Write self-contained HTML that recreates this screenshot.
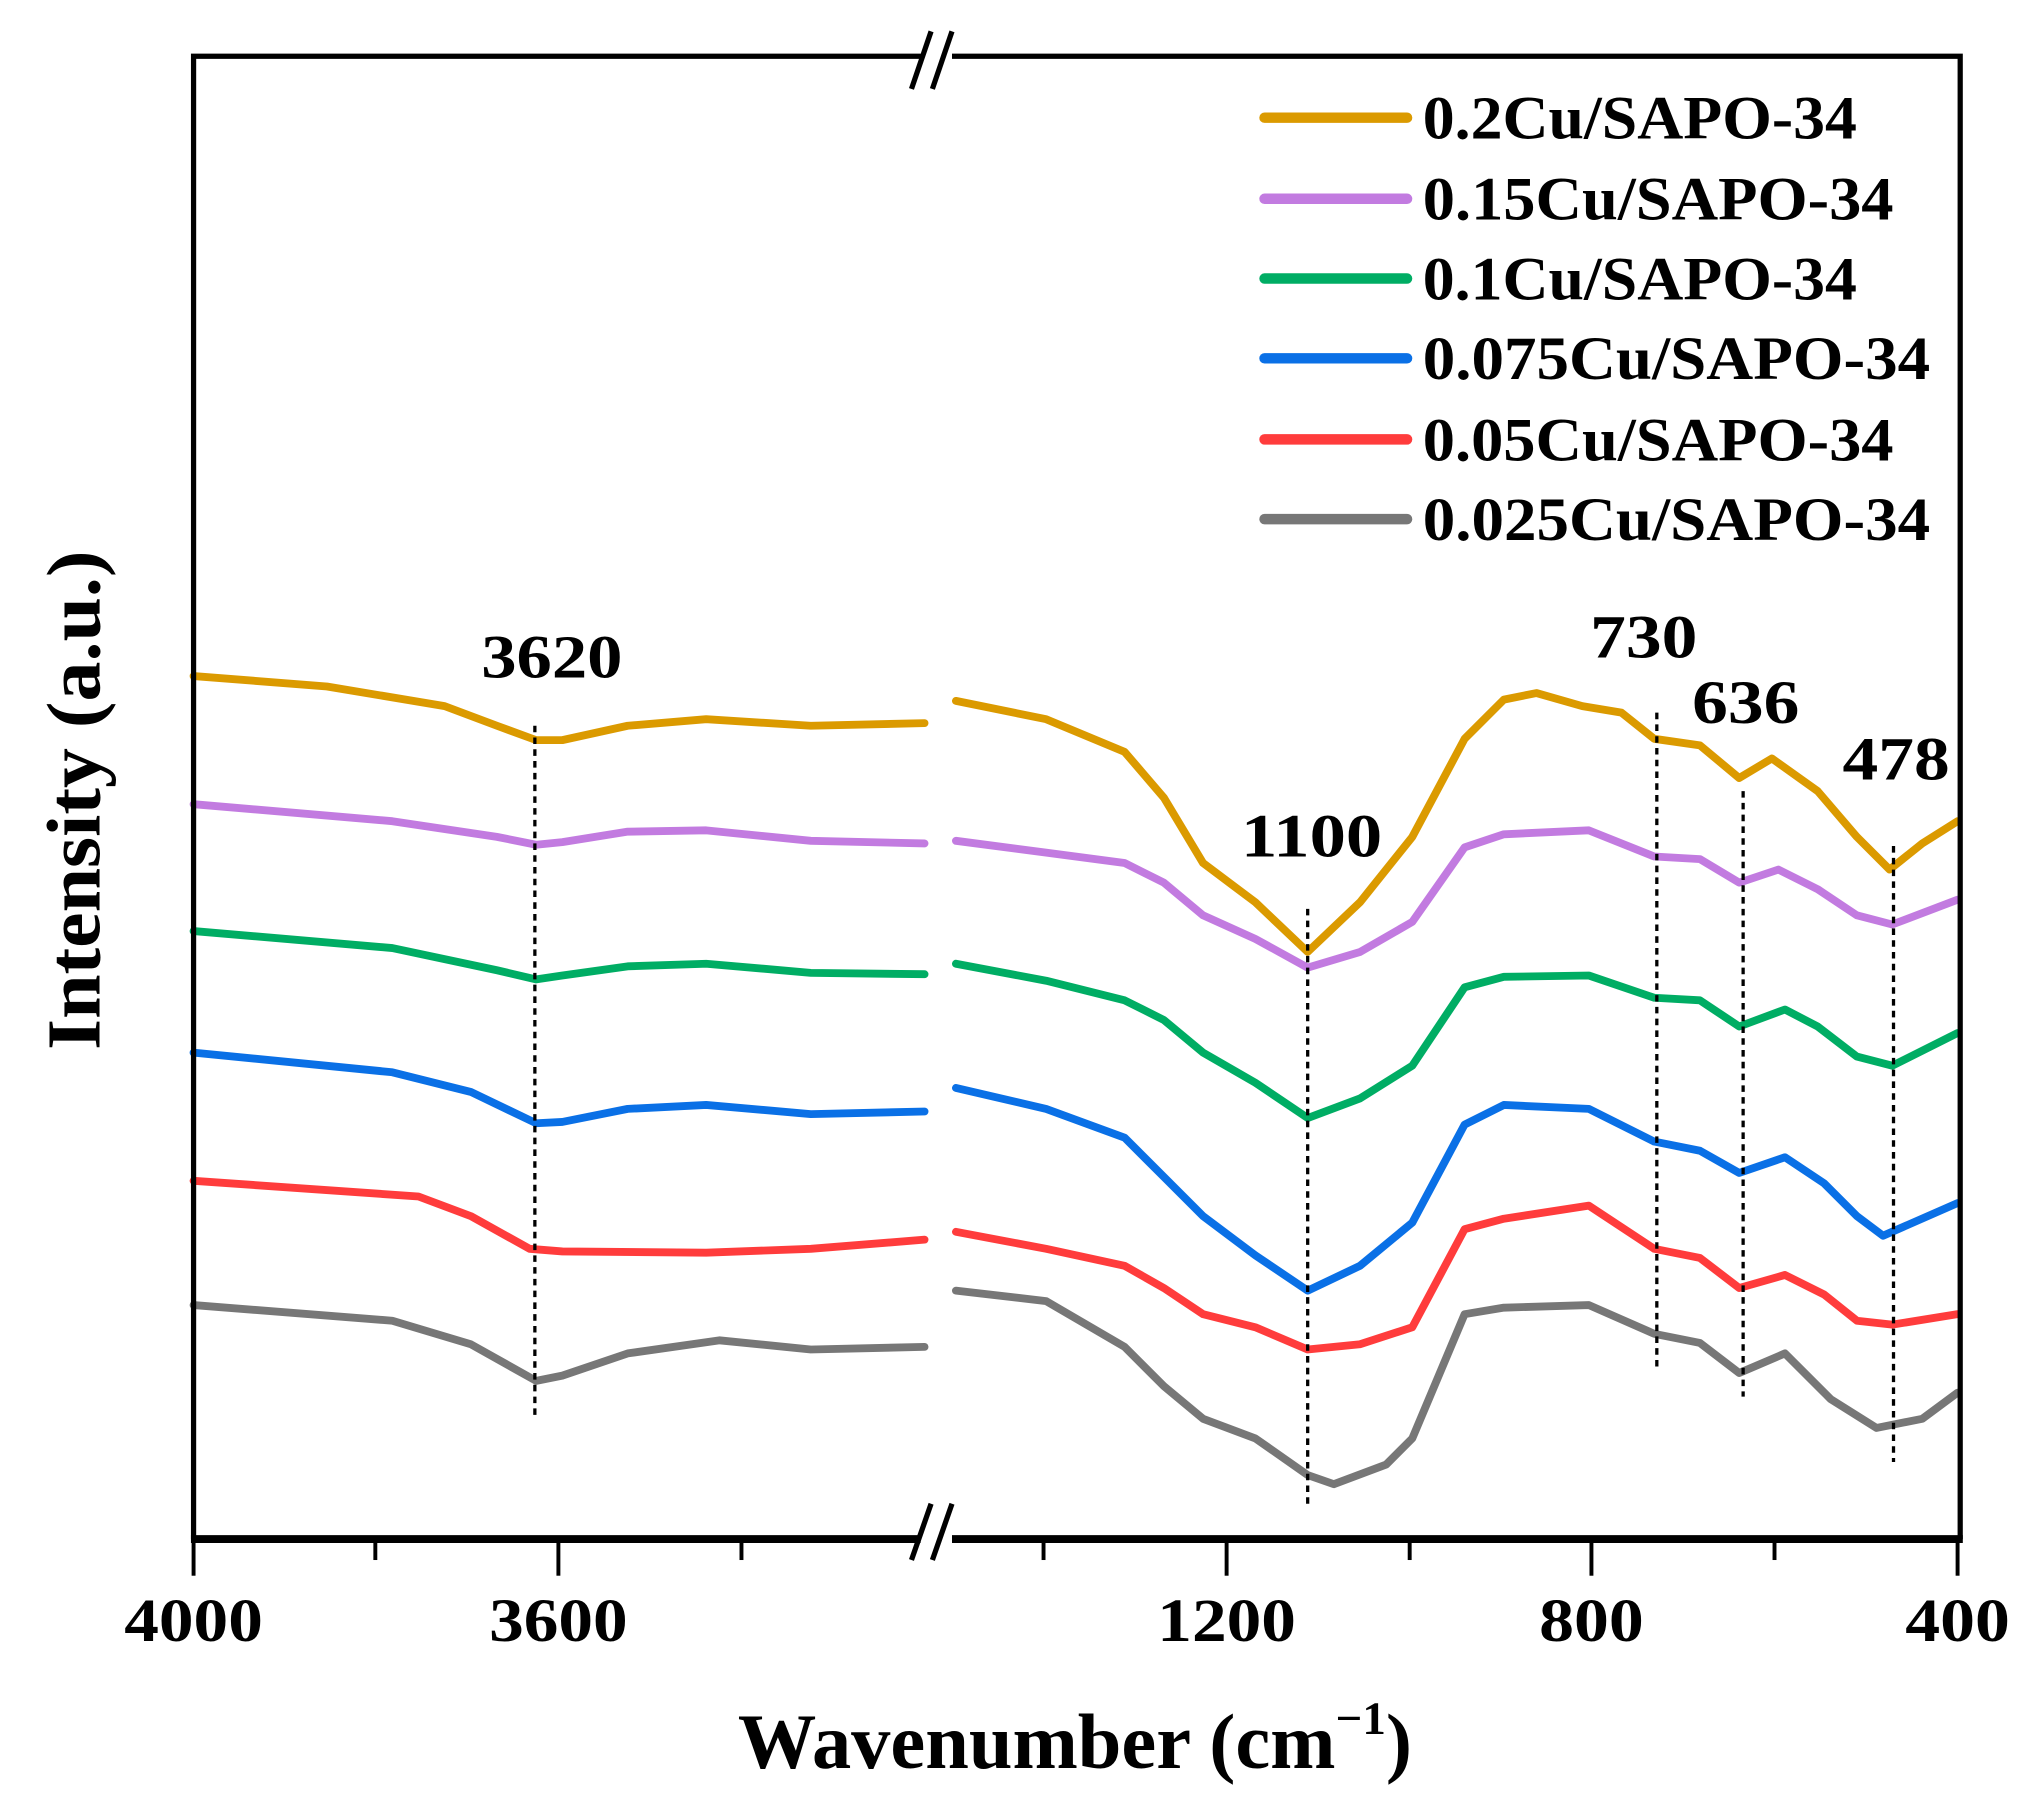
<!DOCTYPE html><html><head><style>html,body{margin:0;padding:0;background:#fff}</style></head><body>
<svg width="2040" height="1792" viewBox="0 0 1560 1370.4" xmlns="http://www.w3.org/2000/svg" font-family="'Liberation Serif',serif" font-weight="bold">
<rect width="1560" height="1370.4" fill="#fff"/>
<g fill="none" stroke-width="6" stroke-linejoin="round" stroke-linecap="round">
<polyline stroke="#db9a00" points="148,517 250,525 340,540 380,555 410,566 430,566 480,555 540,550 620,555 707,553"/>
<polyline stroke="#db9a00" points="731,536 800,550 860,575 890,610 920,660 960,690 1000,728 1040,690 1080,640 1120,565 1150,535 1175,530 1210,540 1240,545 1265,565 1300,570 1330,595 1355,580 1390,605 1420,640 1445,665 1470,645 1497,628"/>
<polyline stroke="#c27be0" points="148,615 300,628 380,640 410,646 430,644 480,636 540,635 620,643 707,645"/>
<polyline stroke="#c27be0" points="731,643 800,652 860,660 890,675 920,700 960,718 1000,740 1040,728 1080,705 1120,648 1150,638 1215,635 1265,655 1300,657 1330,675 1360,665 1390,680 1420,700 1447,707 1497,688"/>
<polyline stroke="#00ad64" points="148,712 300,725 380,742 410,749 430,746 480,739 540,737 620,744 707,745"/>
<polyline stroke="#00ad64" points="731,737 800,750 860,765 890,780 920,805 960,828 1000,855 1040,840 1080,815 1120,755 1150,747 1215,746 1265,763 1300,765 1330,785 1365,772 1390,785 1420,808 1447,815 1497,790"/>
<polyline stroke="#0a70e6" points="148,805 300,820 360,835 410,859 430,858 480,848 540,845 620,852 707,850"/>
<polyline stroke="#0a70e6" points="731,832 800,848 860,870 890,900 920,930 960,960 1000,987 1040,968 1080,935 1120,860 1150,845 1215,848 1265,873 1300,880 1330,897 1365,885 1395,905 1420,930 1440,945 1497,920"/>
<polyline stroke="#ff3c3c" points="148,903 320,915 360,930 405,955 430,957 540,958 620,955 707,948"/>
<polyline stroke="#ff3c3c" points="731,942 800,955 860,968 890,985 920,1005 960,1015 1000,1032 1040,1028 1080,1015 1120,940 1150,932 1215,922 1265,955 1300,962 1330,985 1365,975 1395,990 1420,1010 1447,1013 1497,1005"/>
<polyline stroke="#777" points="148,998 300,1010 360,1028 410,1056 430,1052 480,1035 550,1025 620,1032 707,1030"/>
<polyline stroke="#777" points="731,987 800,995 860,1030 890,1060 920,1085 960,1100 1000,1128 1020,1135 1060,1120 1080,1100 1120,1005 1150,1000 1215,998 1265,1020 1300,1027 1330,1050 1365,1035 1400,1070 1435,1092 1470,1085 1497,1065"/>
</g>
<g stroke="#000" stroke-width="2.5" stroke-dasharray="5,4">
<line x1="409" y1="555" x2="409" y2="1085"/>
<line x1="1000" y1="695" x2="1000" y2="1150"/>
<line x1="1267" y1="545" x2="1267" y2="1045"/>
<line x1="1333" y1="605" x2="1333" y2="1068"/>
<line x1="1448" y1="647" x2="1448" y2="1118"/>
</g>
<g stroke="#000" fill="none">
<polyline stroke-width="4" points="148,1177 148,43 1499,43 1499,1177"/>
<line x1="146" y1="1177" x2="1501" y2="1177" stroke-width="6"/>
<g stroke-width="3">
<line x1="148" y1="1177" x2="148" y2="1205"/><line x1="287" y1="1177" x2="287" y2="1193"/>
<line x1="427" y1="1177" x2="427" y2="1205"/><line x1="567" y1="1177" x2="567" y2="1193"/>
<line x1="798" y1="1177" x2="798" y2="1193"/><line x1="938" y1="1177" x2="938" y2="1205"/>
<line x1="1078" y1="1177" x2="1078" y2="1193"/><line x1="1217" y1="1177" x2="1217" y2="1205"/>
<line x1="1357" y1="1177" x2="1357" y2="1193"/><line x1="1497" y1="1177" x2="1497" y2="1205"/>
</g>
</g>
<rect x="704" y="35" width="24" height="14" fill="#fff"/>
<rect x="704" y="1168" width="24" height="16" fill="#fff"/>
<g stroke="#000" stroke-width="4">
<line x1="697" y1="68" x2="712" y2="24"/><line x1="713" y1="68" x2="728" y2="24"/>
<line x1="697" y1="1193" x2="712" y2="1150"/><line x1="713" y1="1193" x2="728" y2="1150"/>
</g>
<g font-size="47" text-anchor="middle" fill="#000" lengthAdjust="spacingAndGlyphs">
<text x="148" y="1255" textLength="106" lengthAdjust="spacingAndGlyphs">4000</text>
<text x="427" y="1255" textLength="106" lengthAdjust="spacingAndGlyphs">3600</text>
<text x="938" y="1255" textLength="106" lengthAdjust="spacingAndGlyphs">1200</text>
<text x="1217" y="1255" textLength="80" lengthAdjust="spacingAndGlyphs">800</text>
<text x="1497" y="1255" textLength="80" lengthAdjust="spacingAndGlyphs">400</text>
<text x="422" y="518" textLength="108" lengthAdjust="spacingAndGlyphs">3620</text>
<text x="1003" y="655" textLength="108" lengthAdjust="spacingAndGlyphs">1100</text>
<text x="1257" y="503" textLength="82" lengthAdjust="spacingAndGlyphs">730</text>
<text x="1335" y="553" textLength="82" lengthAdjust="spacingAndGlyphs">636</text>
<text x="1450" y="596" textLength="82" lengthAdjust="spacingAndGlyphs">478</text>
</g>
<text x="822" y="1352" font-size="60" text-anchor="middle">Wavenumber (cm<tspan font-size="36" dy="-26">−1</tspan><tspan dy="26">)</tspan></text>
<text transform="translate(76,612) rotate(-90)" font-size="58" text-anchor="middle" textLength="382" lengthAdjust="spacingAndGlyphs">Intensity (a.u.)</text>
<g stroke-width="8" stroke-linecap="round">
<line x1="967" y1="90" x2="1076" y2="90" stroke="#db9a00"/>
<line x1="967" y1="152" x2="1076" y2="152" stroke="#c27be0"/>
<line x1="967" y1="213" x2="1076" y2="213" stroke="#00ad64"/>
<line x1="967" y1="274" x2="1076" y2="274" stroke="#0a70e6"/>
<line x1="967" y1="336" x2="1076" y2="336" stroke="#ff3c3c"/>
<line x1="967" y1="397" x2="1076" y2="397" stroke="#777"/>
</g>
<g font-size="47" fill="#000">
<text x="1088" y="106" textLength="332" lengthAdjust="spacingAndGlyphs">0.2Cu/SAPO-34</text>
<text x="1088" y="168" textLength="360" lengthAdjust="spacingAndGlyphs">0.15Cu/SAPO-34</text>
<text x="1088" y="229" textLength="332" lengthAdjust="spacingAndGlyphs">0.1Cu/SAPO-34</text>
<text x="1088" y="290" textLength="388" lengthAdjust="spacingAndGlyphs">0.075Cu/SAPO-34</text>
<text x="1088" y="352" textLength="360" lengthAdjust="spacingAndGlyphs">0.05Cu/SAPO-34</text>
<text x="1088" y="413" textLength="388" lengthAdjust="spacingAndGlyphs">0.025Cu/SAPO-34</text>
</g>
</svg>
</body></html>
